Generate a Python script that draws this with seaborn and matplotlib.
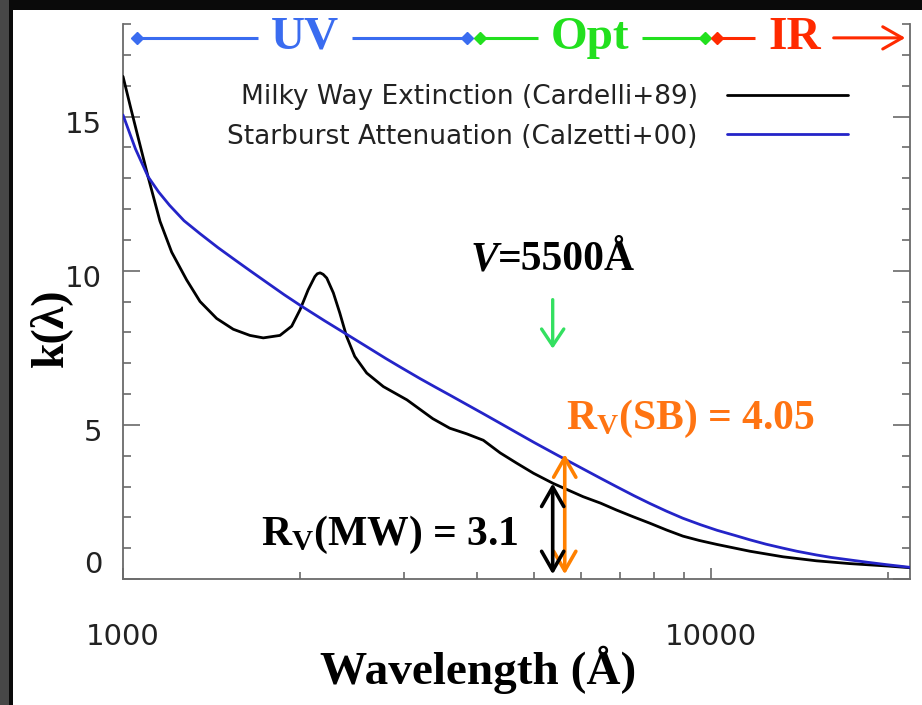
import numpy as np
import pandas as pd
import seaborn as sns
import matplotlib
matplotlib.use("Agg")
import matplotlib.pyplot as plt
from matplotlib.patches import Rectangle
from matplotlib.ticker import NullFormatter
import matplotlib.transforms as mtransforms

# ---------------- data ----------------
mw_wave = [1000, 1030, 1060, 1103, 1156, 1210, 1283, 1352, 1443, 1540, 1644, 1732,
           1849, 1936, 2000, 2065, 2120, 2140, 2164, 2190, 2221, 2279, 2337, 2400,
           2478, 2597, 2772, 3040, 3364, 3596, 3840, 4100, 4380, 4670, 4990, 5390,
           6060, 6490, 6900, 7370, 7870, 8400, 8960, 9550, 10240, 11650, 13260,
           15110, 17200, 20000, 22000]
mw_k = [16.3, 15.3, 14.35, 13.05, 11.6, 10.6, 9.7, 9.0, 8.45, 8.1, 7.9, 7.82,
        7.9, 8.2, 8.73, 9.38, 9.81, 9.9, 9.93, 9.88, 9.76, 9.28, 8.63, 7.87,
        7.22, 6.68, 6.24, 5.81, 5.2, 4.89, 4.71, 4.5, 4.09, 3.76, 3.43, 3.1,
        2.67, 2.46, 2.24, 2.02, 1.81, 1.59, 1.39, 1.25, 1.12, 0.9, 0.72,
        0.59, 0.5, 0.42, 0.36]

sb_wave = [1000, 1050, 1103, 1150, 1200, 1270, 1352, 1450, 1550, 1650, 1755, 1880,
           2000, 2200, 2385, 2600, 2800, 2958, 3200, 3400, 3600, 3850, 4100, 4400,
           4670, 5000, 5500, 6060, 6500, 6900, 7400, 7870, 8400, 8960, 9600, 10240,
           11000, 11650, 12400, 13260, 14000, 15110, 16000, 17200, 18500, 20000,
           22000]
sb_k = [15.05, 13.95, 13.05, 12.55, 12.12, 11.62, 11.2, 10.75, 10.35, 9.98, 9.62,
        9.22, 8.88, 8.38, 7.97, 7.53, 7.15, 6.88, 6.5, 6.22, 5.96, 5.65, 5.36,
        5.03, 4.75, 4.43, 4.0, 3.57, 3.26, 3.0, 2.7, 2.45, 2.2, 1.97, 1.76, 1.58,
        1.41, 1.27, 1.13, 1.0, 0.9, 0.78, 0.70, 0.62, 0.54, 0.46, 0.37]

curve_names = ["Milky Way Extinction (Cardelli+89)",
               "Starburst Attenuation (Calzetti+00)"]
curve_colors = ["#000000", "#2424c8"]

x_ticks = [1000, 10000]
x_tick_labels = ["1000", "10000"]
x_minor = [2000, 3000, 4000, 5000, 6000, 7000, 8000, 9000, 20000]
y_ticks = [0, 5, 10, 15]
y_tick_labels = ["0", "5", "10", "15"]
y_minor = list(range(0, 19))

band_names = ["UV", "Opt", "IR"]
band_colors = ["#3a6cf0", "#22e01e", "#ff2a00"]
band_starts = [1056, 4050, 10240]
band_ends = [3850, 9770, 21400]
band_text_x = [2040, 6230, 13860]
band_y = 17.55

rv_mw = 3.1
rv_sb = 4.05

# ---------------- figure ----------------
sns.set_theme(style="white")
plt.rcParams["font.family"] = ["DejaVu Sans"]
plt.rcParams["mathtext.fontset"] = "custom"
plt.rcParams["mathtext.rm"] = "Liberation Serif:bold"
plt.rcParams["mathtext.bf"] = "Liberation Serif:bold"
plt.rcParams["mathtext.it"] = "Liberation Serif:bold:italic"

W, H = 922, 705
fig = plt.figure(figsize=(W / 100, H / 100), dpi=100, facecolor="white")

# dark frame around the picture
fig.patches.append(Rectangle((0, 0), 9 / W, 1, transform=fig.transFigure,
                             facecolor="#474747", edgecolor="none", zorder=-5))
fig.patches.append(Rectangle((9 / W, 0), 4 / W, 1, transform=fig.transFigure,
                             facecolor="#0a0a0a", edgecolor="none", zorder=-5))
fig.patches.append(Rectangle((9 / W, 1 - 10 / H), 1, 10 / H, transform=fig.transFigure,
                             facecolor="#0a0a0a", edgecolor="none", zorder=-5))

L, R, B, T = 123, 910, 579, 24
ax = fig.add_axes([L / W, 1 - B / H, (R - L) / W, (B - T) / H])
ax.set_facecolor("white")

df = pd.concat([
    pd.DataFrame({"wave": mw_wave, "k": mw_k, "curve": curve_names[0]}),
    pd.DataFrame({"wave": sb_wave, "k": sb_k, "curve": curve_names[1]}),
], ignore_index=True)

sns.lineplot(data=df, x="wave", y="k", hue="curve", hue_order=curve_names,
             palette=dict(zip(curve_names, curve_colors)), linewidth=2.0,
             estimator=None, ax=ax, legend=True, zorder=3)
for ln in ax.get_lines():
    ln.set_solid_joinstyle("round")

ax.set_xscale("log")
ax.set_xlim(1000, 21800)
ax.set_ylim(0, 18)

ax.set_xticks(x_ticks)
ax.set_xticklabels(x_tick_labels)
ax.set_xticks(x_minor, minor=True)
ax.xaxis.set_minor_formatter(NullFormatter())
ax.set_yticks(y_ticks)
ax.set_yticklabels(y_tick_labels)
ax.set_yticks(y_minor, minor=True)

for s in ["left", "right", "bottom"]:
    ax.spines[s].set_color("#6a6a6a")
    ax.spines[s].set_linewidth(1.3)
ax.spines["top"].set_visible(False)

ax.tick_params(axis="y", which="both", direction="in", left=True, right=True,
               color="#6a6a6a", width=1.2, labelsize=21, labelcolor="#222222",
               pad=15)
ax.tick_params(axis="y", which="major", length=12)
ax.tick_params(axis="y", which="minor", length=6)
ax.tick_params(axis="x", which="both", direction="in", bottom=True, top=False,
               color="#6a6a6a", width=1.2, labelsize=21, labelcolor="#222222",
               pad=32)
ax.tick_params(axis="x", which="major", length=8)
ax.tick_params(axis="x", which="minor", length=5)

for lab in ax.get_yticklabels():
    dy = 12 / 72 if lab.get_text() == "0" else -4 / 72
    lab.set_transform(lab.get_transform() +
                      mtransforms.ScaledTranslation(0, dy, fig.dpi_scale_trans))

# axis labels
ax.set_xlabel("Wavelength (Å)", fontfamily="Liberation Serif", fontweight="bold",
              fontsize=34, color="black", va="center")
ax.xaxis.set_label_coords((478 - L) / (R - L), (B - 670) / (B - T))
ax.set_ylabel("k(λ)", fontfamily="Liberation Serif", fontweight="bold",
              fontsize=33, color="black", va="center")
ax.yaxis.set_label_coords((50 - L) / (R - L), (B - 328) / (B - T))

# legend: label first, then line
handles, labels = ax.get_legend_handles_labels()
ax.legend(handles, labels, loc="upper right", bbox_to_anchor=(848 / W, 1 - 84 / H),
          bbox_transform=fig.transFigure, frameon=False, markerfirst=False,
          fontsize=19, handlelength=4.6, handletextpad=1.1, labelspacing=0.52,
          borderpad=0, borderaxespad=0, labelcolor="#222222")

# UV / Opt / IR bands on top
band_texts = []
for name, col, xt in zip(band_names, band_colors, band_text_x):
    t = ax.text(xt, band_y, name, ha="center", va="center", color=col,
                fontfamily="Liberation Serif", fontweight="bold", fontsize=34,
                zorder=6, clip_on=False)
    band_texts.append(t)

fig.canvas.draw()
renderer = fig.canvas.get_renderer()
inv = ax.transData.inverted()
gap_px = 13
for name, col, x0, x1, t in zip(band_names, band_colors, band_starts, band_ends,
                                band_texts):
    bb = t.get_window_extent(renderer)
    gl = inv.transform((bb.x0 - gap_px, bb.y0))[0]
    gr = inv.transform((bb.x1 + gap_px, bb.y0))[0]
    ax.plot([x0, gl], [band_y, band_y], color=col, lw=2.2, clip_on=False,
            solid_capstyle="butt", zorder=4)
    if name == "IR":
        ax.annotate("", xy=(x1, band_y), xytext=(gr, band_y),
                    arrowprops=dict(arrowstyle="->,head_length=0.7,head_width=0.4",
                                    color=col, lw=2.2, shrinkA=0, shrinkB=0,
                                    mutation_scale=20),
                    annotation_clip=False, zorder=4)
        ends = [x0]
    else:
        ax.plot([gr, x1], [band_y, band_y], color=col, lw=2.2, clip_on=False,
                solid_capstyle="butt", zorder=4)
        ends = [x0, x1]
    ax.plot(ends, [band_y] * len(ends), linestyle="none", marker="D",
            markersize=6, color=col, clip_on=False, zorder=5)

# V = 5500 A label and arrow
vt = ax.text(3893, 9.72, "V", ha="left", va="bottom", color="black",
             fontfamily="Liberation Serif", fontweight="bold", fontstyle="italic",
             fontsize=30, zorder=6)
ax.annotate("=5500Å", xy=(1, 0), xycoords=vt, ha="left", va="bottom",
            color="black", fontfamily="Liberation Serif", fontweight="bold",
            fontsize=30, zorder=6)
ax.annotate("", xy=(5380, 7.47), xytext=(5380, 9.06),
            arrowprops=dict(arrowstyle="->,head_length=0.6,head_width=0.4",
                            color="#33e060", lw=2.4, shrinkA=0, shrinkB=0,
                            mutation_scale=20), zorder=6)

# R_V double arrows
ax.annotate("", xy=(5380, rv_mw), xytext=(5380, 0.15),
            arrowprops=dict(arrowstyle="<->,head_length=0.7,head_width=0.4",
                            color="black", lw=2.6, shrinkA=0, shrinkB=0,
                            mutation_scale=20), zorder=6)
ax.annotate("", xy=(5640, rv_sb), xytext=(5640, 0.15),
            arrowprops=dict(arrowstyle="<->,head_length=0.7,head_width=0.4",
                            color="#ff8000", lw=2.6, shrinkA=0, shrinkB=0,
                            mutation_scale=20), zorder=5)

ax.text(4700, 1.1, r"R$_\mathrm{V}$(MW) = " + f"{rv_mw}", ha="right", va="baseline",
        color="black", fontfamily="Liberation Serif", fontweight="bold",
        fontsize=30, zorder=6)
ax.text(5670, 4.85, r"R$_\mathrm{V}$(SB) = " + f"{rv_sb}", ha="left", va="baseline",
        color="#ff7412", fontfamily="Liberation Serif", fontweight="bold",
        fontsize=30, zorder=6)

fig.savefig("out.png", dpi=100, facecolor="white")
